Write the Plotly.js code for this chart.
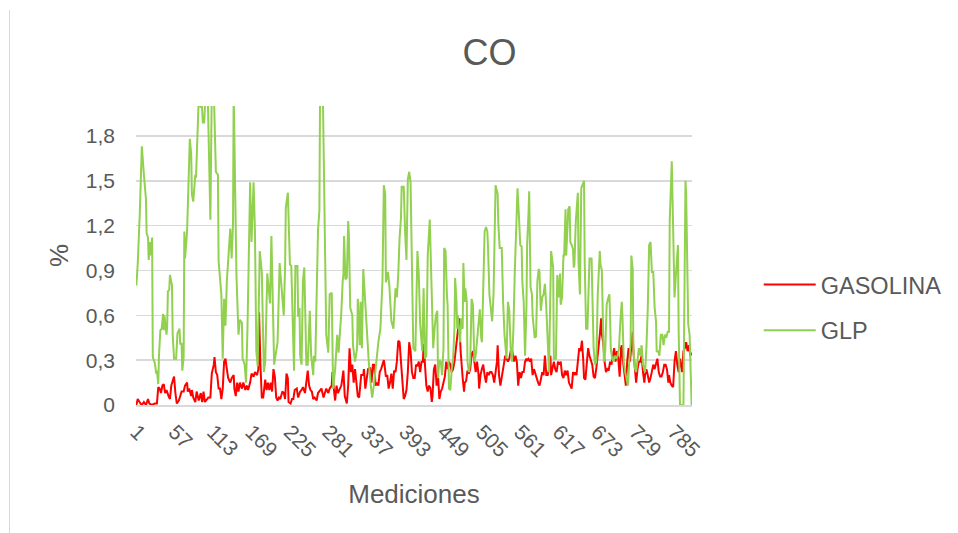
<!DOCTYPE html>
<html>
<head>
<meta charset="utf-8">
<script src="https://cdn.plot.ly/plotly-3.0.1.min.js"></script>
<style>
html,body{margin:0;padding:0;background:#fff;}
#wrap{position:relative;width:958px;height:533px;}
#chart{width:958px;height:533px;}
#edge{position:absolute;left:9px;top:10px;width:0;height:523px;border-left:1.5px solid #d9d9d9;}
</style>
</head>
<body>
<div id="wrap"><div id="chart"></div><div id="edge"></div></div>
<script>
const glpIdx = [1,3,6,7,8,9,12,15,16,18,19,21,22,24,25,28,30,31,33,34,36,38,40,41,42,45,46,47,49,50,53,54,56,59,61,64,65,67,68,70,71,72,75,79,81,82,84,87,88,90,92,95,96,98,100,102,105,109,111,114,117,120,121,125,127,129,131,133,135,138,140,142,143,146,147,150,152,155,156,159,161,163,164,167,169,172,174,176,178,181,184,186,187,
189,192,196,198,202,206,207,210,213,216,218,219,222,225,227,231,233,236,237,239,240,242,244,246,249,251,254,256,259,260,262,264,266,268,269,273,274,276,278,281,283,286,288,291,294,296,300,302,303,304,306,308,310,311,313,316,317,320,323,324,327,328,330,332,334,337,340,343,345,348,351,354,357,360,362,364,365,368,370,373,376,379,381,383,385,387,388,391,
393,395,397,399,401,403,405,408,411,413,415,417,418,420,422,424,426,429,431,432,434,436,438,440,441,443,445,447,449,450,452,454,455,457,459,461,463,465,466,468,469,470,473,475,477,478,480,481,483,484,486,488,490,492,494,496,498,500,502,504,505,507,509,511,513,514,516,518,520,522,524,525,528,529,531,534,536,538,541,543,545,547,549,551,553,554,556,557,559,561,563,564,566,568,570,571,573,574,576,578,579,581,582,584,586,588,589,591,593,595,
597,599,601,603,604,606,609,610,613,615,617,619,620,622,624,625,627,628,630,631,633,634,636,638,639,640,642,644,645,646,648,650,652,654,655,657,659,661,662,665,666,668,670,672,674,675,677,678,680,682,683,685,687,689,691,692,693,695,697,699,701,703,705,707,709,710,712,714,716,718,720,722,723,725,726,728,730,732,734,736,738,740,742,743,745,747,749,751,753,755,757,759,760,762,764,766,768,770,772,774,776,778,779,780,782,783,785,786,788,790,791,792,793,794,799,800,802,803,806,808,809,811];
const glpVal = [0.80,0.94,1.28,1.49,1.50,1.73,1.54,1.38,1.15,1.12,0.97,1.09,1.00,1.12,0.32,0.28,0.21,0.23,0.14,0.33,0.50,0.51,0.61,0.50,0.60,0.47,0.53,0.76,0.77,0.87,0.80,0.47,0.31,0.31,0.48,0.51,0.41,0.41,0.23,0.32,1.16,0.98,1.16,1.78,1.68,1.41,1.36,1.54,1.52,1.74,2.05,1.99,2.05,1.89,1.89,2.10,2.10,1.24,2.10,2.10,1.56,1.54,0.96,0.74,0.31,0.71,0.53,0.83,0.96,1.18,0.98,1.21,2.10,1.09,0.87,0.47,0.57,0.55,0.31,0.27,0.15,0.49,0.83,1.49,1.09,1.49,1.16,0.36,0.26,1.03,0.89,0.38,0.22,
0.29,0.88,0.68,1.13,0.27,0.42,0.42,0.95,0.76,0.60,0.93,1.32,1.42,0.94,0.93,0.23,0.93,0.93,0.59,0.65,0.33,0.27,0.83,0.92,0.27,0.27,0.63,0.33,0.20,0.33,0.29,0.67,1.17,1.30,2.10,2.10,1.83,1.30,0.47,0.35,0.74,0.75,0.11,0.24,0.47,0.35,0.62,0.83,0.87,1.13,0.84,0.85,1.23,1.14,0.65,0.60,0.40,0.29,0.38,0.71,0.40,0.69,0.38,0.91,0.74,0.51,0.29,0.13,0.05,0.15,0.31,0.42,0.51,0.83,1.47,1.41,0.82,0.89,0.80,0.56,0.51,0.78,0.72,0.87,1.12,1.25,1.46,1.46,
1.16,0.97,1.51,1.56,1.49,0.83,0.38,0.36,1.03,0.87,0.54,0.42,0.36,0.78,0.31,0.33,1.00,1.24,0.89,0.76,0.38,0.51,0.60,0.63,0.18,0.30,0.29,0.20,0.38,1.05,1.03,0.74,0.67,0.11,0.10,0.24,0.31,0.51,0.85,0.69,0.51,0.60,0.42,0.58,0.51,0.95,0.69,0.78,0.69,0.29,0.22,0.29,0.71,0.67,0.29,0.33,0.42,0.51,0.64,0.45,0.42,0.78,1.16,1.19,1.16,1.05,0.74,0.65,0.56,0.74,1.18,1.47,1.41,1.21,1.05,1.05,0.69,0.47,0.31,0.69,0.63,0.38,0.29,0.51,0.89,1.07,1.27,1.45,1.27,1.07,1.06,0.83,0.69,0.33,0.65,1.07,1.28,1.43,0.79,0.74,0.60,0.47,0.45,0.46,0.83,0.91,0.89,0.63,0.72,0.74,
0.81,0.65,0.40,0.22,0.51,1.03,0.92,0.31,0.31,0.87,0.72,0.88,0.67,0.72,1.00,1.00,1.31,1.00,1.20,1.31,1.33,1.09,1.07,1.04,0.92,0.94,1.23,1.41,1.42,0.96,0.74,1.45,1.47,1.50,0.96,0.51,0.51,0.74,0.98,0.98,0.74,0.38,0.27,0.29,0.74,0.89,1.03,0.94,0.90,0.47,0.29,0.36,0.67,0.71,0.74,0.60,0.38,0.31,0.29,0.33,0.31,0.33,0.38,0.56,0.69,0.60,0.29,0.22,0.18,0.13,0.29,0.42,1.00,0.91,0.38,0.25,0.22,0.29,0.38,0.33,0.40,0.27,0.22,0.22,0.38,0.65,1.07,1.09,0.89,0.89,0.65,0.56,0.36,0.36,0.33,0.47,0.47,0.40,0.47,0.45,0.49,0.49,1.23,1.41,1.63,1.41,0.87,0.72,0.87,1.00,1.07,0.51,0.11,0,0,0.74,1.50,1.41,0.54,0.47,0.29,0];

const gasIdx = [1,3,7,9,12,15,18,20,24,28,31,33,35,37,39,41,43,45,48,50,52,54,56,58,60,63,65,67,70,72,75,76,78,81,82,84,87,89,92,95,97,99,101,104,106,109,111,114,115,117,119,121,123,125,127,129,131,133,135,138,140,143,144,146,148,150,152,155,157,160,162,164,167,169,172,174,177,179,180,182,184,186,
189,191,193,195,197,199,201,203,205,207,209,211,214,216,218,220,222,223,226,228,230,232,235,237,240,242,244,247,249,251,253,255,257,259,261,264,266,269,271,274,276,278,281,283,286,287,289,291,293,295,298,300,303,305,308,310,312,314,316,318,320,322,324,326,328,329,332,333,335,337,339,342,344,346,348,350,352,354,356,358,360,362,363,365,367,369,371,373,375,377,379,381,383,385,387,389,391,
393,395,397,399,401,403,405,407,409,411,413,415,417,419,420,422,424,426,428,430,432,433,435,437,439,441,443,445,447,449,451,453,455,457,459,461,463,465,466,468,470,472,474,475,477,479,480,482,484,486,488,490,492,494,496,498,500,501,503,505,507,509,511,513,515,517,519,521,523,525,527,528,530,532,534,535,537,539,541,543,545,547,549,551,552,554,556,558,560,562,564,566,568,570,571,573,575,577,579,581,583,585,587,589,591,593,595,
597,599,601,603,605,606,608,610,612,614,616,618,620,622,624,626,628,630,632,634,636,638,640,641,643,645,647,649,651,653,654,656,658,660,662,664,666,668,670,672,673,675,677,679,680,682,684,686,688,690,692,694,696,698,700,702,704,706,708,709,711,713,715,717,719,721,723,725,726,728,730,732,734,736,738,740,742,743,745,747,749,751,753,755,757,759,761,763,765,767,769,771,773,775,777,778,780,782,784,786,788,790,792,794,795,797,799,801,803,805,807,809,811];
const gasVal = [0.00,0.04,0.01,0.00,0.02,0.00,0.04,0.01,0.00,0.01,0.01,0.12,0.11,0.08,0.13,0.14,0.08,0.10,0.06,0.04,0.13,0.16,0.19,0.08,0.01,0.03,0.06,0.09,0.09,0.13,0.15,0.09,0.11,0.06,0.10,0.05,0.02,0.09,0.03,0.08,0.02,0.09,0.02,0.04,0.05,0.05,0.21,0.27,0.32,0.22,0.20,0.11,0.11,0.04,0.11,0.29,0.31,0.24,0.18,0.15,0.18,0.20,0.11,0.06,0.15,0.09,0.15,0.11,0.15,0.10,0.13,0.10,0.15,0.21,0.19,0.22,0.20,0.24,0.62,0.27,0.05,0.05,
0.17,0.10,0.15,0.10,0.15,0.09,0.24,0.19,0.05,0.03,0.05,0.04,0.09,0.08,0.04,0.21,0.18,0.02,0.01,0.04,0.04,0.10,0.11,0.05,0.09,0.10,0.12,0.08,0.15,0.23,0.13,0.10,0.09,0.04,0.05,0.03,0.08,0.10,0.11,0.05,0.08,0.11,0.08,0.11,0.13,0.22,0.11,0.03,0.13,0.08,0.11,0.13,0.23,0.06,0.01,0.13,0.38,0.22,0.27,0.15,0.24,0.15,0.06,0.05,0.13,0.20,0.20,0.24,0.11,0.18,0.24,0.25,0.15,0.27,0.27,0.13,0.15,0.13,0.22,0.24,0.27,0.30,0.27,0.19,0.20,0.11,0.15,0.21,0.11,0.23,0.22,0.29,0.43,0.42,0.29,0.15,0.04,
0.06,0.10,0.22,0.42,0.36,0.22,0.18,0.18,0.27,0.26,0.29,0.22,0.29,0.29,0.41,0.27,0.13,0.09,0.13,0.11,0.02,0.06,0.24,0.27,0.13,0.20,0.04,0.09,0.11,0.15,0.19,0.29,0.24,0.29,0.27,0.22,0.24,0.29,0.33,0.38,0.47,0.58,0.36,0.29,0.18,0.09,0.15,0.16,0.23,0.21,0.24,0.34,0.36,0.29,0.22,0.29,0.21,0.11,0.20,0.24,0.27,0.20,0.15,0.22,0.20,0.22,0.22,0.20,0.15,0.22,0.29,0.40,0.20,0.13,0.20,0.22,0.27,0.33,0.31,0.29,0.31,0.36,0.37,0.33,0.29,0.33,0.29,0.13,0.22,0.18,0.22,0.22,0.29,0.31,0.30,0.31,0.29,0.31,0.20,0.24,0.20,0.18,0.15,0.13,0.17,0.22,0.20,
0.33,0.20,0.20,0.24,0.33,0.20,0.24,0.29,0.24,0.22,0.29,0.27,0.29,0.20,0.18,0.23,0.20,0.23,0.15,0.13,0.11,0.22,0.20,0.22,0.20,0.29,0.38,0.36,0.43,0.29,0.18,0.17,0.31,0.38,0.33,0.29,0.27,0.19,0.18,0.25,0.31,0.38,0.47,0.58,0.47,0.42,0.29,0.22,0.24,0.23,0.29,0.27,0.33,0.38,0.29,0.36,0.31,0.19,0.38,0.40,0.29,0.22,0.13,0.29,0.38,0.29,0.38,0.49,0.36,0.24,0.15,0.24,0.29,0.29,0.33,0.22,0.15,0.20,0.24,0.20,0.15,0.18,0.22,0.27,0.24,0.27,0.31,0.22,0.19,0.19,0.22,0.27,0.27,0.24,0.15,0.20,0.15,0.13,0.12,0.29,0.36,0.27,0.22,0.31,0.27,0.22,0.36,0.38,0.42,0.36,0.40,0.33,0.35];

const seriesNames = ['GASOLINA','GLP'];
const xTickLabels = ['1','57','113','169','225','281','337','393','449','505','561','617','673','729','785'];
const yTickVals = [0,0.3,0.6,0.9,1.2,1.5,1.8];
const chartTitle = 'CO';
const xTitle = 'Mediciones';
const yTitle = '%';

const txt = '#595959';
const fam = '"Liberation Sans", Arial, sans-serif';

const traces = [
  {x: gasIdx, y: gasVal, name: seriesNames[0], type: 'scatter', mode: 'lines',
   legendgroup: 'a', line: {color: '#ff0000', width: 2}},
  {x: glpIdx, y: glpVal, name: seriesNames[1], type: 'scatter', mode: 'lines',
   legendgroup: 'b', line: {color: '#92d050', width: 2}}
];

const layout = {
  width: 958, height: 533,
  margin: {l: 136, r: 265, t: 106, b: 128},
  paper_bgcolor: '#ffffff', plot_bgcolor: '#ffffff',
  separators: ', ',
  font: {family: fam, color: txt, size: 21},
  title: {text: chartTitle, x: 0.511, xref: 'container', xanchor: 'center',
          y: 0.902, yref: 'container', yanchor: 'middle',
          font: {size: 36, color: txt, family: fam}},
  xaxis: {
    range: [0.5, 811.5], tickmode: 'array',
    tickvals: xTickLabels.map(Number), ticktext: xTickLabels,
    tickangle: 45, showgrid: false, zeroline: false,
    showline: true, linecolor: '#d9d9d9', linewidth: 1.5, ticks: '',
    ticklabelstandoff: 5,
    tickfont: {size: 21, color: txt},
    title: {text: xTitle, font: {size: 26, color: txt}, standoff: 24}
  },
  yaxis: {
    range: [0, 2.0], tickmode: 'array', tickvals: yTickVals,
    showgrid: true, gridcolor: '#d9d9d9', gridwidth: 1.5,
    zeroline: false, showline: false, ticks: '',
    ticklabelstandoff: 20,
    tickfont: {size: 21, color: txt},
    title: {text: yTitle, font: {size: 26, color: txt}, standoff: 9}
  },
  showlegend: true,
  legend: {x: 1.118, xanchor: 'left', y: 0.325, yanchor: 'middle',
           font: {size: 23.5, color: txt}, tracegroupgap: 12, itemwidth: 52,
           bgcolor: 'rgba(0,0,0,0)'},
};

Plotly.newPlot('chart', traces, layout, {displayModeBar: false, staticPlot: true});
</script>
</body>
</html>
